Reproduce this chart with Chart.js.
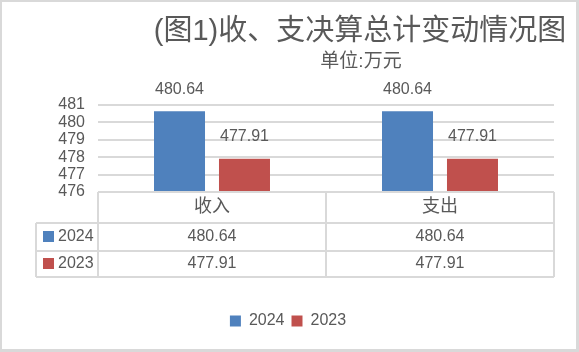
<!DOCTYPE html>
<html>
<head>
<meta charset="utf-8">
<script src="https://cdn.jsdelivr.net/npm/chart.js@4.4.1/dist/chart.umd.min.js"></script>
<style>
    html, body { margin: 0; padding: 0; background: #ffffff; }
    #wrap { width: 579px; height: 352px; }
</style>
</head>
<body>
<div id="wrap"><canvas id="chart" width="579" height="352"></canvas></div>
<script>
/* ====================================
   Chart data
   ==================================== */
const categories = ['收入', '支出'];
const seriesLabels = ['2024', '2023'];
const values2024 = [480.64, 480.64];
const values2023 = [477.91, 477.91];
const yMin = 476;
const yMax = 481;
const yStep = 1;

const titleText = '(图1)收、支决算总计变动情况图';
const subtitleText = '单位:万元';

const COLORS = ['#4F81BD', '#C0504D'];
const TEXT = '#595959';
const LINE = '#D9D9D9';
const FONT = "'Liberation Sans', 'Noto Sans CJK SC', sans-serif";

/**
 * Grey frame around the whole chart + white background
 */
const framePlugin = {
    id: 'frame',
    beforeDraw(chart) {
        const ctx = chart.ctx;
        ctx.save();
        ctx.fillStyle = LINE;
        ctx.fillRect(0, 0, chart.width, chart.height);
        ctx.fillStyle = '#ffffff';
        ctx.fillRect(2, 2, chart.width - 5, chart.height - 5);
        ctx.restore();
    }
};

/**
 * Title and unit line (placed off-centre like the source)
 */
const titlePlugin = {
    id: 'titles',
    afterDraw(chart) {
        const ctx = chart.ctx;
        ctx.save();
        ctx.fillStyle = TEXT;
        ctx.textAlign = 'center';
        ctx.textBaseline = 'middle';
        ctx.font = '29px ' + FONT;
        ctx.fillText(titleText, 360, 32);
        ctx.font = '19px ' + FONT;
        ctx.fillText(subtitleText, 361, 62);
        ctx.restore();
    }
};

/**
 * Value labels above each bar
 */
const valueLabelPlugin = {
    id: 'valueLabels',
    afterDatasetsDraw(chart) {
        const ctx = chart.ctx;
        ctx.save();
        ctx.fillStyle = TEXT;
        ctx.font = '16px ' + FONT;
        ctx.textAlign = 'center';
        ctx.textBaseline = 'middle';
        chart.data.datasets.forEach((ds, i) => {
            chart.getDatasetMeta(i).data.forEach((bar, j) => {
                ctx.fillText(ds.data[j].toFixed(2), bar.x, bar.y - 22);
            });
        });
        ctx.restore();
    }
};

/**
 * Data table under the plot (category header + one row per series)
 */
const dataTablePlugin = {
    id: 'dataTable',
    afterDraw(chart) {
        const ctx = chart.ctx;
        const x = chart.scales.x;
        const area = chart.chartArea;
        const top = area.bottom;
        const rows = [top, top + 31, top + 59, top + 85];
        const keyLeft = area.left - 62;
        const colW = (area.right - area.left) / categories.length;

        ctx.save();
        ctx.strokeStyle = LINE;
        ctx.lineWidth = 2;
        ctx.beginPath();
        // horizontal lines
        ctx.moveTo(area.left, rows[0]); ctx.lineTo(area.right, rows[0]);
        for (let r = 1; r < rows.length; r++) {
            ctx.moveTo(keyLeft, rows[r]); ctx.lineTo(area.right, rows[r]);
        }
        // vertical lines
        ctx.moveTo(keyLeft, rows[1]); ctx.lineTo(keyLeft, rows[3]);
        for (let c = 0; c <= categories.length; c++) {
            const px = area.left + c * colW;
            ctx.moveTo(px, rows[0]); ctx.lineTo(px, rows[3]);
        }
        ctx.stroke();

        ctx.fillStyle = TEXT;
        ctx.textBaseline = 'middle';
        ctx.textAlign = 'center';
        ctx.font = '18px ' + FONT;
        categories.forEach((cat, i) => {
            ctx.fillText(cat, x.getPixelForValue(i), (rows[0] + rows[1]) / 2);
        });

        ctx.font = '16px ' + FONT;
        chart.data.datasets.forEach((ds, d) => {
            const cy = (rows[d + 1] + rows[d + 2]) / 2;
            ds.data.forEach((v, i) => {
                ctx.textAlign = 'center';
                ctx.fillText(v.toFixed(2), x.getPixelForValue(i), cy);
            });
            ctx.fillStyle = ds.backgroundColor;
            ctx.fillRect(keyLeft + 7, cy - 6, 11, 11);
            ctx.fillStyle = TEXT;
            ctx.textAlign = 'left';
            ctx.fillText(ds.label, keyLeft + 22, cy);
        });
        ctx.restore();
    }
};

new Chart(document.getElementById('chart'), {
    type: 'bar',
    data: {
        labels: categories,
        datasets: [
            {
                label: seriesLabels[0],
                data: values2024,
                backgroundColor: COLORS[0],
                borderWidth: 0,
                categoryPercentage: 0.57,
                barPercentage: 0.785
            },
            {
                label: seriesLabels[1],
                data: values2023,
                backgroundColor: COLORS[1],
                borderWidth: 0,
                categoryPercentage: 0.57,
                barPercentage: 0.785
            }
        ]
    },
    options: {
        responsive: false,
        animation: false,
        devicePixelRatio: 1,
        layout: {
            padding: { top: 105, left: 22, right: 25, bottom: 13 }
        },
        plugins: {
            title: { display: false },
            tooltip: { enabled: false },
            legend: {
                display: true,
                position: 'bottom',
                labels: {
                    boxWidth: 11,
                    boxHeight: 11,
                    padding: 7,
                    color: TEXT,
                    font: { family: FONT, size: 16 }
                }
            }
        },
        scales: {
            x: {
                grid: { display: false },
                border: { display: false },
                ticks: { display: false },
                afterFit(scale) { scale.height = 114; }
            },
            y: {
                min: yMin,
                max: yMax,
                ticks: {
                    stepSize: yStep,
                    autoSkip: false,
                    padding: 13,
                    color: TEXT,
                    font: { family: FONT, size: 16 }
                },
                grid: { color: LINE, lineWidth: 2, drawTicks: false },
                border: { display: false },
                afterFit(scale) { scale.width = 76; }
            }
        }
    },
    plugins: [framePlugin, titlePlugin, valueLabelPlugin, dataTablePlugin]
});
</script>
</body>
</html>
